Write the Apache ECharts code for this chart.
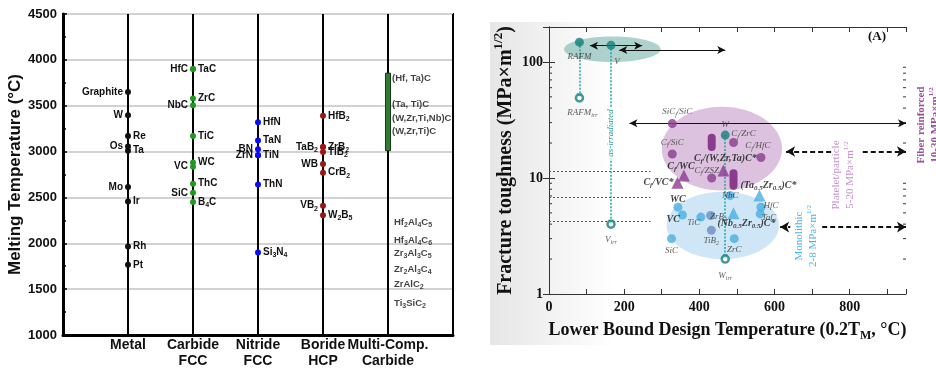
<!DOCTYPE html>
<html><head><meta charset="utf-8">
<script src="https://cdn.jsdelivr.net/npm/echarts@6/dist/echarts.min.js"></script>
<style>html,body{margin:0;padding:0;background:#fff}#c{width:936px;height:391px}</style>
</head><body><div id="c"></div>
<script>
// ================= LEFT CHART DATA =================
const catLabels = ['Metal', 'Carbide\nFCC', 'Nitride\nFCC', 'Boride\nHCP', 'Multi-Comp.\nCarbide'];
const metalNames = ['Graphite','W','Re','Os','Ta','Mo','Ir','Rh','Pt'];
const metalTm    = [3650, 3395, 3170, 3055, 3010, 2615, 2455, 1965, 1765];
const carbideNames = ['HfC','TaC','ZrC','NbC','TiC','WC','VC','ThC','SiC','B{s|4}C'];
const carbideTm    = [3900, 3900, 3580, 3505, 3170, 2880, 2835, 2650, 2550, 2450];
const nitrideNames = ['HfN','TaN','BN','ZrN','TiN','ThN','Si{s|3}N{s|4}'];
const nitrideTm    = [3320, 3120, 3025, 2960, 2960, 2640, 1900];
const borideNames = ['HfB{s|2}','TaB{s|2}','ZrB{s|2}','TiB{s|2}','WB','CrB{s|2}','VB{s|2}','W{s|2}B{s|5}'];
const borideTm    = [3390, 3050, 3050, 2995, 2865, 2770, 2410, 2305];
const multiRange = [3010, 3855];
const multiNames = ['(Hf, Ta)C','(Ta, Ti)C','(W,Zr,Ti,Nb)C','(W,Zr,Ti)C'];
const multiTm    = [3800, 3510, 3365, 3225];
const maxPhaseNames = ['Hf{s|2}Al{s|4}C{s|5}','Hf{s|3}Al{s|4}C{s|6}','Zr{s|3}Al{s|3}C{s|5}','Zr{s|2}Al{s|3}C{s|4}','ZrAlC{s|2}','Ti{s|3}SiC{s|2}'];
const maxPhaseTm    = [2230, 2035, 1895, 1720, 1555, 1350];

// ================= RIGHT CHART DATA =================
const metalLbl = ['RAFM','V','W'];
const metalT   = [81, 165, 469];
const metalK   = [148, 139, 23.4];
const irrLbl   = ['RAFM{s|irr}','V{s|irr}','W{s|irr}'];
const irrK     = [49, 4.0, 2.0];
const fibCirLbl = ['SiC{s|f}/SiC','C{s|f}/SiC','C{s|f}/ZrC','C{s|f}/HfC','C{s|f}/ZSZ'];
const fibCirT   = [328, 328, 491, 564, 433];
const fibCirK   = [29.4, 16.1, 20.2, 15.0, 10.0];
const fibPillLbl = ['C{s|f}/ZS', ''];
const fibPillT   = [433, 491];
const fibPillLo  = [17.1, 7.9];
const fibPillHi  = [24.0, 11.9];
const fibTriLbl = ['C{s|f}/(W,Zr,Ta)C*','C{s|f}/WC','C{s|f}/VC*'];
const fibTriT   = [464, 359, 342];
const fibTriK   = [11.6, 10.5, 9.1];
const monoLbl = ['WC','VC','TiC','SiC','NbC','ZrC','HfC','TaC'];
const monoT   = [343, 355, 404, 326, 482, 493, 564, 562];
const monoK   = [5.6, 4.8, 4.6, 3.0, 7.05, 3.0, 5.6, 4.9];
const monoBLbl = ['ZrB{s|2}','TiB{s|2}'];
const monoBT   = [430, 432];
const monoBK   = [4.75, 3.54];
const monoTriLbl = ['(Ta{s|0.5}Zr{s|0.5})C*','(Nb{s|0.5}Zr{s|0.5})C*'];
const monoTriT   = [560, 491];
const monoTriK   = [7.05, 4.97];
// regions [tMin, tMax, kMin, kMax]
const regionMetal = [40, 297, 100, 166];
const regionFiber = [300, 620, 7.8, 41];
const regionMono  = [313, 612, 2.0, 7.6];
// arrows [t1, k1, t2, k2]
const solidArrows = [[109, 138, 248, 138], [187, 127, 469, 127], [214, 29.6, 950, 29.6]];
const fiberArrowK = 16.9, fiberArrowT = [631, 754, 835, 950];
const monoArrowK = 3.77,  monoArrowT  = [615, 642, 727, 950];
const refLevelsK = [11.5, 6.8, 4.2], refEndT = 270;
const minorK = [2,3,4,5,6,7,8,9,20,30,40,50,60,70,80,90];
const xTicksShown = [0, 200, 400, 600, 800];
const yTicksShown = [1, 10, 100];

// ================= BUILD =================
const SANS = "'Liberation Sans', Arial, sans-serif";
const SERIF = "'Liberation Serif', 'Times New Roman', serif";
const leftSide = new Set(['Graphite','W','Os','Mo','HfC','NbC','VC','SiC','BN','ZrN','TaB{s|2}','WB','VB{s|2}']);
const subRichL = {s:{fontSize:7, fontWeight:'bold', fontFamily:SANS, verticalAlign:'bottom', lineHeight:13, color:'#111'}};

function leftSeries(names, tm, xi, color) {
  return {
    type:'scatter', xAxisIndex:0, yAxisIndex:0, symbolSize:6, z:5,
    itemStyle:{color:color, opacity:1},
    data: names.map((n,i)=>({name:n, value:[xi, tm[i]], label:{position: leftSide.has(n)?'left':'right'}})),
    label:{show:true, formatter:p=>p.name, distance:2, fontFamily:SANS, fontWeight:'bold', fontSize:10, lineHeight:13, color:'#111', rich:subRichL}
  };
}

const subRichR = {
  s:{fontSize:6, fontStyle:'italic', fontFamily:SERIF, verticalAlign:'bottom', lineHeight:12, color:'#333'},
  bs:{fontSize:7, fontStyle:'italic', fontWeight:'bold', fontFamily:SERIF, verticalAlign:'bottom', lineHeight:12, color:'#111'}
};
const boldLbl = new Set(['C{s|f}/(W,Zr,Ta)C*','C{s|f}/WC','C{s|f}/VC*','(Ta{s|0.5}Zr{s|0.5})C*','(Nb{s|0.5}Zr{s|0.5})C*','WC','VC']);
const lblPos = {
  'RAFM':{position:'bottom', distance:4},
  'V':{position:'bottom', distance:4, offset:[6,2]},
  'W':{position:'top', distance:0},
  'RAFM{s|irr}':{position:'bottom', distance:4, offset:[3,0]},
  'V{s|irr}':{position:'bottom', distance:5},
  'W{s|irr}':{position:'bottom', distance:6},
  'SiC{s|f}/SiC':{position:'top', distance:1, offset:[5,0]},
  'C{s|f}/SiC':{position:'top', distance:1},
  'C{s|f}/ZrC':{position:'top', distance:0, offset:[10,2]},
  'C{s|f}/HfC':{position:'top', distance:1, offset:[-3,0]},
  'C{s|f}/ZSZ':{position:'top', distance:0, offset:[-5,3]},
  'C{s|f}/ZS':{position:'top', distance:0, offset:[-5,0]},
  'C{s|f}/(W,Zr,Ta)C*':{position:'top', distance:0, offset:[2,0]},
  'C{s|f}/WC':{position:'top', distance:-1, offset:[-3,2]},
  'C{s|f}/VC*':{position:'left', distance:-2},
  'WC':{position:'top', distance:-3},
  'VC':{position:'left', distance:-2, offset:[0,4]},
  'TiC':{position:'left', distance:-4, offset:[0,6]},
  'SiC':{position:'bottom', distance:2},
  'NbC':{position:'inside'},
  'ZrC':{position:'bottom', distance:1},
  'HfC':{position:'right', distance:-2, offset:[0,-2]},
  'TaC':{position:'right', distance:-3, offset:[0,4]},
  'ZrB{s|2}':{position:'right', distance:-5, offset:[0,1]},
  'TiB{s|2}':{position:'bottom', distance:0},
  '(Ta{s|0.5}Zr{s|0.5})C*':{position:'top', distance:0, offset:[9,2]},
  '(Nb{s|0.5}Zr{s|0.5})C*':{position:'bottom', distance:0, offset:[13,-2]}
};
function rLabel(n){
  const b = boldLbl.has(n);
  const base = {show: n!=='', formatter:p=>b? p.name.replace(/\{s\|/g,'{bs|') : p.name,
    fontFamily:SERIF, fontStyle:'italic', fontWeight: b?'bold':'normal', fontSize: b?10:9, lineHeight:12,
    color: b?'#111':'#333', rich:subRichR};
  return Object.assign(base, lblPos[n]||{position:'top'});
}
function rightSeries(names, ts, ks, symbol, size, itemStyle, z) {
  return {
    type:'scatter', xAxisIndex:1, yAxisIndex:2, symbol:symbol, symbolSize:size, z:z||6,
    itemStyle:itemStyle,
    data: names.map((n,i)=>({name:n, value:[ts[i], ks[i]], label:rLabel(n)}))
  };
}

const TEAL='#14807a', PURPLE='#8b3b8e', BLUE='#4aaee2', SLATE='#6c8fc2';

const markLines = [];
solidArrows.forEach(a=>markLines.push([
  {coord:[a[0],a[1]], symbol:'arrow', symbolSize:[6,8], lineStyle:{color:'#111', width:1, type:'solid'}},
  {coord:[a[2],a[3]], symbol:'arrow', symbolSize:[6,8]}]));
const dashStyle = {color:'#111', width:2, type:[5,3]};
markLines.push([{coord:[fiberArrowT[0],fiberArrowK], symbol:'arrow', symbolSize:[8,9], lineStyle:dashStyle},{coord:[fiberArrowT[1],fiberArrowK], symbol:'none'}]);
markLines.push([{coord:[fiberArrowT[2],fiberArrowK], symbol:'none', lineStyle:dashStyle},{coord:[fiberArrowT[3],fiberArrowK], symbol:'arrow', symbolSize:[8,9]}]);
markLines.push([{coord:[monoArrowT[0],monoArrowK], symbol:'arrow', symbolSize:[8,9], lineStyle:dashStyle},{coord:[monoArrowT[1],monoArrowK], symbol:'none'}]);
markLines.push([{coord:[monoArrowT[2],monoArrowK], symbol:'none', lineStyle:dashStyle},{coord:[monoArrowT[3],monoArrowK], symbol:'arrow', symbolSize:[8,9]}]);
refLevelsK.forEach(k=>markLines.push([{coord:[0,k], symbol:'none', lineStyle:{color:'#555', width:1, type:[2,2]}},{coord:[refEndT,k], symbol:'none'}]));
metalT.forEach((t,i)=>markLines.push([{coord:[t,metalK[i]], symbol:'none', lineStyle:{color:'#22a5a5', width:1.5, type:[2,1.5]}},{coord:[t,irrK[i]], symbol:'arrow', symbolSize:[4,5]}]));

const option = {
  animation:false,
  backgroundColor:'#fff',
  graphic:[
    {type:'rect', z:-10, shape:{x:490, y:22, width:446, height:323},
     style:{fill:{type:'linear', x:0, y:0, x2:1, y2:0, colorStops:[{offset:0, color:'#e6e6e6'},{offset:0.28, color:'#ffffff'},{offset:1, color:'#ffffff'}]}}},
    {type:'text', z:10, x:611, y:133, rotation:Math.PI/2,
     style:{text:'as-irradiated', font:'italic 9px '+SERIF, fill:'#2a9d9d', align:'center', verticalAlign:'middle', textAlign:'center', textVerticalAlign:'middle', backgroundColor:'#fff', padding:[1,2]}},
    {type:'text', z:10, x:877, y:37,
     style:{text:'(A)', font:'bold 13px '+SERIF, fill:'#111', align:'center', verticalAlign:'middle', textAlign:'center', textVerticalAlign:'middle'}},
    {type:'text', z:10, x:928, y:125, rotation:Math.PI/2,
     style:{text:'Fiber reinforced\n10-30 MPa×m{p|1/2}', font:'bold 11px '+SERIF, lineHeight:14, fill:'#9b4f9b', align:'center', verticalAlign:'middle', textAlign:'center', textVerticalAlign:'middle',
       rich:{p:{fontSize:7, fontWeight:'bold', fontFamily:SERIF, fill:'#9b4f9b', color:'#9b4f9b', verticalAlign:'top', lineHeight:14}}}},
    {type:'text', z:10, x:843, y:175, rotation:Math.PI/2,
     style:{text:'Platelet/particle\n5-20 MPa×m{p|1/2}', font:'11px '+SERIF, lineHeight:14, fill:'#c48fcc', align:'center', verticalAlign:'middle', textAlign:'center', textVerticalAlign:'middle',
       rich:{p:{fontSize:7, fontFamily:SERIF, fill:'#c48fcc', color:'#c48fcc', verticalAlign:'top', lineHeight:14}}}},
    {type:'text', z:10, x:806, y:236, rotation:Math.PI/2,
     style:{text:'Monolithic\n2-8 MPa×m{p|1/2}', font:'11px '+SERIF, lineHeight:14, fill:'#4db3e6', align:'center', verticalAlign:'middle', textAlign:'center', textVerticalAlign:'middle',
       rich:{p:{fontSize:7, fontFamily:SERIF, fill:'#4db3e6', color:'#4db3e6', verticalAlign:'top', lineHeight:14}}}}
  ],
  grid:[
    {left:63, top:14, width:390, height:321, show:true, borderColor:'#000', borderWidth:2, backgroundColor:'transparent'},
    {left:549, top:27, width:357, height:267, show:false}
  ],
  xAxis:[
    {gridIndex:0, type:'value', min:0, max:6, interval:1,
     axisLine:{lineStyle:{color:'#000', width:3}}, axisTick:{show:false},
     splitLine:{show:true, lineStyle:{color:'#000', width:2}},
     axisLabel:{formatter:v=>(v>=1&&v<=5)?catLabels[v-1]:'', fontFamily:SANS, fontWeight:'bold', fontSize:14, lineHeight:16, color:'#111', margin:2}},
    {gridIndex:1, type:'value', min:0, max:950, interval:100, position:'bottom',
     axisLine:{lineStyle:{color:'#333', width:1}}, axisTick:{inside:true, length:5, lineStyle:{color:'#333'}},
     splitLine:{show:false},
     axisLabel:{formatter:v=>xTicksShown.includes(v)?String(v):'', fontFamily:SERIF, fontWeight:'bold', fontSize:14, color:'#111', margin:6},
     name:'Lower Bound Design Temperature (0.2T{sub|M}, °C)', nameLocation:'middle', nameGap:24,
     nameTextStyle:{fontFamily:SERIF, fontWeight:'bold', fontSize:18, color:'#111',
       rich:{sub:{fontFamily:SERIF, fontWeight:'bold', fontSize:12, color:'#111', verticalAlign:'bottom', lineHeight:24}}}},
    {gridIndex:1, type:'value', min:0, max:950, interval:100, position:'top',
     axisLine:{lineStyle:{color:'#333', width:1}}, axisTick:{inside:true, length:5, lineStyle:{color:'#333'}},
     splitLine:{show:false}, axisLabel:{show:false}}
  ],
  yAxis:[
    {gridIndex:0, type:'value', min:1000, max:4500, interval:500,
     axisLine:{show:true, lineStyle:{color:'#000', width:3}},
     axisTick:{show:true, inside:true, length:4, lineStyle:{color:'#000', width:1.5}},
     minorTick:{show:true, splitNumber:2, length:3, lineStyle:{color:'#000', width:1.5}},
     splitLine:{show:true, lineStyle:{color:'#d2d2d2', width:2}},
     axisLabel:{formatter:v=>String(v), fontFamily:SANS, fontWeight:'bold', fontSize:13, color:'#111', margin:6},
     name:'Melting Temperature (°C)', nameLocation:'middle', nameGap:37,
     nameTextStyle:{fontFamily:SANS, fontWeight:'bold', fontSize:17, color:'#111'}},
    {gridIndex:1, type:'log', logBase:10, min:1, max:200, position:'right',
     axisLine:{show:true, lineStyle:{color:'#333', width:1}}, axisTick:{show:true, inside:true, length:6, lineStyle:{color:'#333'}},
     splitLine:{show:false}, axisLabel:{show:false}},
    {gridIndex:1, type:'log', logBase:10, min:1, max:200, position:'left',
     axisLine:{show:true, lineStyle:{color:'#333', width:1}}, axisTick:{show:true, inside:true, length:6, lineStyle:{color:'#333'}},
     splitLine:{show:false},
     axisLabel:{formatter:v=>yTicksShown.some(t=>Math.abs(t-v)<1e-6)?String(Math.round(v)):'', fontFamily:SERIF, fontWeight:'bold', fontSize:14, color:'#111', margin:6},
     name:'Fracture toughness (MPa×m{sup|1/2})', nameLocation:'middle', nameGap:29,
     nameTextStyle:{fontFamily:SERIF, fontWeight:'bold', fontSize:20, color:'#111',
       rich:{sup:{fontFamily:SERIF, fontWeight:'bold', fontSize:13, color:'#111', verticalAlign:'top', lineHeight:28}}}}
  ],
  series:[
    leftSeries(metalNames, metalTm, 1, '#111'),
    leftSeries(carbideNames, carbideTm, 2, '#1e9a1e'),
    leftSeries(nitrideNames, nitrideTm, 3, '#0a0aff'),
    leftSeries(borideNames, borideTm, 4, '#9a1616'),
    {type:'custom', xAxisIndex:0, yAxisIndex:0, z:4, data:[[5, multiRange[0], multiRange[1]]],
     renderItem:(params, api)=>{
       const a = api.coord([api.value(0), api.value(1)]), b = api.coord([api.value(0), api.value(2)]);
       return {type:'rect', shape:{x:a[0]-2.5, y:b[1], width:5, height:a[1]-b[1]}, style:{fill:'#2f7d32', stroke:'#173a17', lineWidth:1}};
     }},
    {type:'scatter', xAxisIndex:0, yAxisIndex:0, symbolSize:0, z:5,
     data: multiNames.map((n,i)=>({name:n, value:[5, multiTm[i]]})),
     label:{show:true, position:'right', distance:4, formatter:p=>p.name, fontFamily:SANS, fontWeight:'bold', fontSize:9.5, color:'#111'}},
    {type:'scatter', xAxisIndex:0, yAxisIndex:0, symbolSize:0, z:5,
     data: maxPhaseNames.map((n,i)=>({name:n, value:[5, maxPhaseTm[i]]})),
     label:{show:true, position:'right', distance:6, formatter:p=>p.name, fontFamily:SANS, fontWeight:'bold', fontSize:9.5, lineHeight:13, color:'#111', rich:subRichL}},

    // right: regions
    {type:'custom', xAxisIndex:1, yAxisIndex:2, z:1, silent:true,
     data:[{value:regionMetal, itemStyle:{color:'rgba(120,180,172,0.6)'}},
           {value:regionFiber, itemStyle:{color:'#dcc2df'}},
           {value:regionMono, itemStyle:{color:'#cfe6f6'}}],
     renderItem:(params, api)=>{
       const p1 = api.coord([api.value(0), api.value(2)]), p2 = api.coord([api.value(1), api.value(3)]);
       return {type:'ellipse', shape:{cx:(p1[0]+p2[0])/2, cy:(p1[1]+p2[1])/2, rx:Math.abs(p2[0]-p1[0])/2, ry:Math.abs(p2[1]-p1[1])/2},
               style:{fill:api.visual('color')}};
     }},
    // minor log ticks
    {type:'custom', xAxisIndex:1, yAxisIndex:2, z:2, silent:true, data:minorK.map(k=>[0,k]),
     renderItem:(params, api)=>{
       const cs = params.coordSys; const y = api.coord([0, api.value(1)])[1];
       return {type:'group', children:[
         {type:'line', shape:{x1:cs.x, y1:y, x2:cs.x+3, y2:y}, style:{stroke:'#333', lineWidth:1}},
         {type:'line', shape:{x1:cs.x+cs.width-3, y1:y, x2:cs.x+cs.width, y2:y}, style:{stroke:'#333', lineWidth:1}}]};
     }},
    // lines & arrows
    {type:'scatter', xAxisIndex:1, yAxisIndex:2, data:[], z:3, silent:true,
     markLine:{silent:true, animation:false, symbol:['none','none'], label:{show:false}, data:markLines}},
    // pills
    {type:'custom', xAxisIndex:1, yAxisIndex:2, z:5,
     data: fibPillLbl.map((n,i)=>({name:n, value:[fibPillT[i], fibPillLo[i], fibPillHi[i]], label:rLabel(n)})),
     renderItem:(params, api)=>{
       const a = api.coord([api.value(0), api.value(1)]), b = api.coord([api.value(0), api.value(2)]);
       const w = 8;
       return {type:'rect', shape:{x:a[0]-w/2, y:b[1], width:w, height:a[1]-b[1], r:w/2}, style:{fill:PURPLE}};
     }},
    rightSeries(fibCirLbl, fibCirT, fibCirK, 'circle', 9, {color:PURPLE}),
    rightSeries(fibTriLbl, fibTriT, fibTriK, 'triangle', 12, {color:PURPLE}),
    rightSeries(monoLbl, monoT, monoK, 'circle', 9, {color:BLUE}),
    rightSeries(monoBLbl, monoBT, monoBK, 'circle', 9, {color:SLATE}),
    rightSeries(monoTriLbl, monoTriT, monoTriK, 'triangle', 12, {color:BLUE}),
    rightSeries(metalLbl, metalT, metalK, 'circle', 9, {color:TEAL}, 7),
    rightSeries(irrLbl, metalT, irrK, 'circle', 7, {color:'#fff', borderColor:TEAL, borderWidth:2.5}, 7)
  ]
};
const chart = echarts.init(document.getElementById('c'));
chart.setOption(option);
</script></body></html>
